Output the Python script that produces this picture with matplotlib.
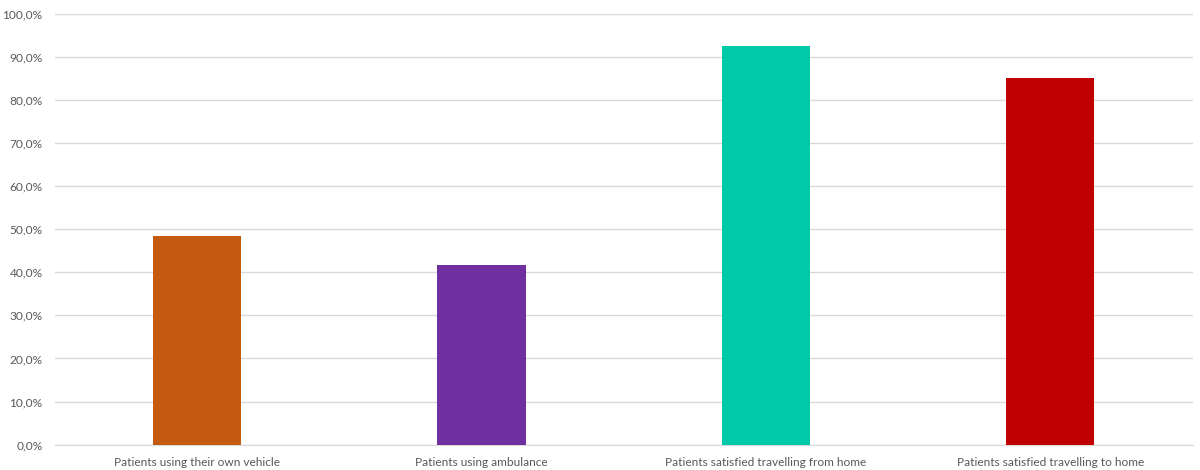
import matplotlib
matplotlib.use("Agg")
import matplotlib.pyplot as plt
from matplotlib.ticker import FuncFormatter, MultipleLocator

categories = ["Patients using their own vehicle", "Patients using ambulance",
              "Patients satisfied travelling from home", "Patients satisfied travelling to home"]
values = [48.4, 41.6, 92.5, 85.0]
colors = ["#C55A11", "#7030A0", "#00C9A7", "#C00000"]

plt.rcParams['font.family'] = ['Lato', 'DejaVu Sans']

fig = plt.figure(figsize=(12, 4.7), dpi=100)
ax = fig.add_axes([0.0458, 0.054, 0.948, 0.917])

x = list(range(len(categories)))
ax.bar(x, values, width=0.31, color=colors, zorder=3)

ax.set_xlim(-0.5, len(categories) - 0.5)
ax.set_ylim(0, 100)
ax.yaxis.set_major_locator(MultipleLocator(10))
ax.yaxis.set_major_formatter(FuncFormatter(lambda v, p: f"{v:.1f}%".replace(".", ",")))
ax.grid(axis="y", color="#D9D9D9", linewidth=1, zorder=0)
ax.set_axisbelow(True)
for s in ["top", "right", "left"]:
    ax.spines[s].set_visible(False)
ax.spines["bottom"].set_color("#D9D9D9")
ax.tick_params(axis="both", length=0, colors="#595959", labelsize=8.6)
ax.tick_params(axis="y", pad=9)
ax.tick_params(axis="x", pad=9)
ax.set_xticks(x)
ax.set_xticklabels(categories)

fig.savefig("out.png", dpi=100)
